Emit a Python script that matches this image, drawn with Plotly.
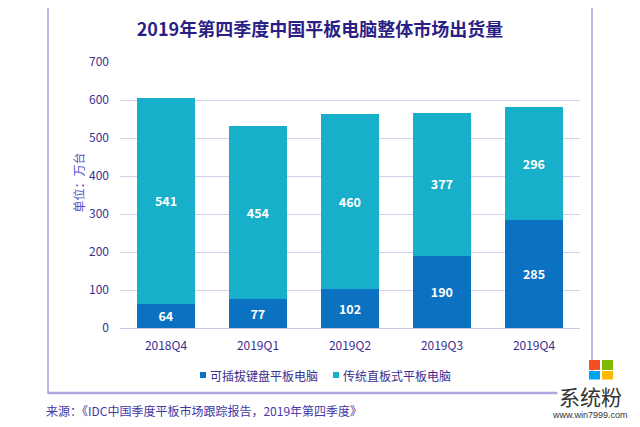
import plotly.graph_objects as go

categories = ["2018Q4", "2019Q1", "2019Q2", "2019Q3", "2019Q4"]
detachable = [64, 77, 102, 190, 285]
slate = [541, 454, 460, 377, 296]
series_names = ["可插拔键盘平板电脑", "传统直板式平板电脑"]
series_colors = ["#0b72c1", "#17afc9"]
y_ticks = [0, 100, 200, 300, 400, 500, 600, 700]

FONT = "Noto Sans CJK SC"
PURPLE = "#3b2f8f"
OFF = 8  # browser body margin

# screen pixel -> paper helpers (plot area on screen: x 120..580, y 62..328)
def px(x):
    return (x - 120) / 460.0

def py(y):
    return (328 - y) / 266.0

fig = go.Figure()
for vals, name, col in [(detachable, series_names[0], series_colors[0]),
                        (slate, series_names[1], series_colors[1])]:
    fig.add_trace(go.Bar(
        x=categories, y=vals, name=name,
        marker=dict(color=col, line=dict(width=0)),
        text=vals, texttemplate="<b>%{text}</b>",
        textposition="inside", insidetextanchor="middle", textangle=0,
        textfont=dict(color="white", size=13, family=FONT),
        showlegend=False,
    ))

fig.update_layout(
    barmode="stack",
    bargap=0.36,
    width=640, height=427,
    margin=dict(l=120 - OFF, r=640 - (580 - OFF), t=62 - OFF, b=427 - (328 - OFF)),
    paper_bgcolor="white", plot_bgcolor="white",
    font=dict(family=FONT, color=PURPLE, size=12),
    title=dict(text="<b>2019年第四季度中国平板电脑整体市场出货量</b>",
               x=px(320), xref="paper", xanchor="center",
               y=1 - (30 - OFF) / 427, yanchor="middle",
               font=dict(size=18, color="#2b1f86", family=FONT)),
    showlegend=False,
    uniformtext=dict(minsize=8, mode="show"),
)
fig.update_xaxes(showgrid=False, showline=False, ticks="",
                 tickfont=dict(size=12, color=PURPLE, family=FONT),
                 ticklabelstandoff=9)
fig.update_yaxes(range=[0, 700], tickvals=y_ticks, showgrid=True,
                 gridcolor="#d3cfec", gridwidth=1, zeroline=True,
                 zerolinecolor="#c9c4e8", zerolinewidth=1,
                 tickfont=dict(size=12, color=PURPLE, family=FONT),
                 ticklabelstandoff=10)

# frame (left, right edges; top edge falls above the page)
FRAME = "#bdb8e8"
for x0, y0, x1, y1 in [(47, 6, 49, 394), (591, 6, 593, 394)]:
    fig.add_shape(type="rect", xref="paper", yref="paper",
                  x0=px(x0), x1=px(x1), y0=py(y1), y1=py(y0),
                  line=dict(width=0), fillcolor=FRAME)
# bottom edge
fig.add_shape(type="line", xref="paper", yref="paper",
              x0=px(48), x1=px(592), y0=py(393), y1=py(393),
              line=dict(color="#aea8e2", width=2.5), layer="above")

# legend (drawn manually)
for sx, tx, name, col in [(200, 208, series_names[0], series_colors[0]),
                          (333, 341, series_names[1], series_colors[1])]:
    fig.add_shape(type="rect", xref="paper", yref="paper",
                  x0=px(sx), x1=px(sx + 6), y0=py(378), y1=py(372),
                  line=dict(width=0), fillcolor=col)
    fig.add_annotation(text=name, xref="paper", yref="paper",
                       x=px(tx), y=py(375), xanchor="left", yanchor="middle",
                       showarrow=False,
                       font=dict(size=12, color=PURPLE, family=FONT))

# y axis title
fig.add_annotation(text="单位：万台", xref="paper", yref="paper",
                   x=px(67), y=py(183), textangle=-90, showarrow=False,
                   font=dict(size=12, color="#5a4cc4", family=FONT))

# source
fig.add_annotation(text="来源：《IDC中国季度平板市场跟踪报告，2019年第四季度》",
                   xref="paper", yref="paper", x=px(44), y=py(410),
                   xanchor="left", yanchor="middle", showarrow=False,
                   font=dict(size=12, color="#4536a6", family=FONT))

# watermark logo
for (x0, y0, c) in [(589, 360, "#f25022"), (602, 360, "#7fba00"),
                    (589, 371, "#00a4ef"), (602, 371, "#ffb900")]:
    fig.add_shape(type="rect", xref="paper", yref="paper",
                  x0=px(x0), x1=px(x0 + 11), y0=py(y0 + 10), y1=py(y0),
                  line=dict(width=0), fillcolor=c)
fig.add_annotation(text="系统粉", xref="paper", yref="paper",
                   x=px(590), y=py(396), xanchor="center", yanchor="middle",
                   showarrow=False, bgcolor="white",
                   font=dict(size=21, color="#333333", family=FONT))
fig.add_annotation(text="www.win7999.com", xref="paper", yref="paper",
                   x=px(590), y=py(415), xanchor="center", yanchor="middle",
                   showarrow=False,
                   font=dict(size=9, color="#333333", family="Liberation Sans"))

fig.write_html("out.html")
